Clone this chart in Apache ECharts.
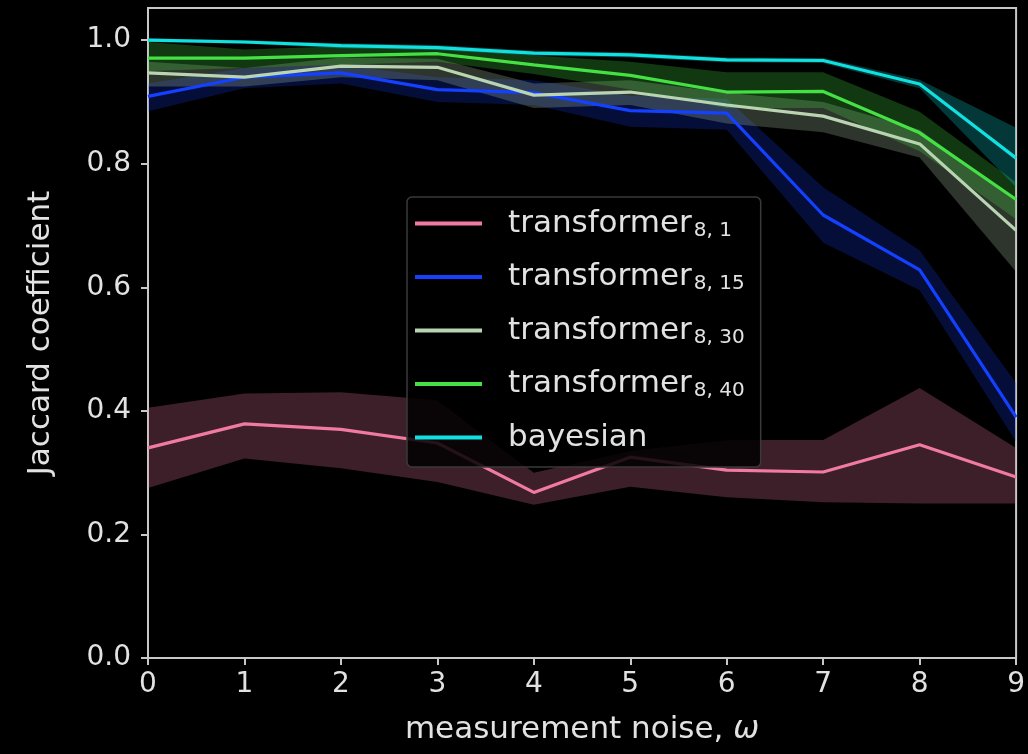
<!DOCTYPE html>
<html>
<head>
<meta charset="utf-8">
<script src="https://cdn.jsdelivr.net/npm/echarts@6/dist/echarts.min.js"></script>
<style>
	html, body { margin: 0; padding: 0; background: #000; }
	#lineChart { width: 1028px; height: 754px; }
</style>
</head>
<body>
<div id="lineChart"></div>
<script>
'use strict';

// noise levels on the x axis
var noise = ['0', '1', '2', '3', '4', '5', '6', '7', '8', '9'];
var yTicks = [0, 0.2, 0.4, 0.6, 0.8, 1.0];

var names = ['transformer8,1', 'transformer8,15', 'transformer8,30', 'transformer8,40', 'bayesian'];
var subs = ['8, 1', '8, 15', '8, 30', '8, 40', ''];

// mean and band (lo / hi) per model
var t1Mean = [0.340, 0.379, 0.370, 0.348, 0.268, 0.325, 0.304, 0.301, 0.345, 0.293];
var t1Lo   = [0.275, 0.323, 0.307, 0.285, 0.248, 0.277, 0.260, 0.252, 0.250, 0.250];
var t1Hi   = [0.405, 0.428, 0.430, 0.417, 0.300, 0.335, 0.353, 0.353, 0.437, 0.340];

var t15Mean = [0.909, 0.940, 0.947, 0.920, 0.915, 0.886, 0.882, 0.717, 0.628, 0.390];
var t15Lo   = [0.885, 0.922, 0.930, 0.900, 0.895, 0.860, 0.855, 0.672, 0.595, 0.350];
var t15Hi   = [0.930, 0.955, 0.960, 0.940, 0.935, 0.910, 0.905, 0.762, 0.660, 0.445];

var t30Mean = [0.947, 0.940, 0.958, 0.956, 0.911, 0.916, 0.895, 0.877, 0.832, 0.692];
var t30Lo   = [0.925, 0.925, 0.940, 0.935, 0.890, 0.895, 0.865, 0.851, 0.810, 0.625];
var t30Hi   = [0.965, 0.955, 0.972, 0.970, 0.930, 0.935, 0.915, 0.900, 0.855, 0.740];

var t40Mean = [0.971, 0.971, 0.975, 0.978, 0.960, 0.943, 0.916, 0.917, 0.850, 0.742];
var t40Lo   = [0.950, 0.955, 0.960, 0.965, 0.945, 0.920, 0.890, 0.890, 0.820, 0.710];
var t40Hi   = [0.997, 0.985, 0.990, 0.990, 0.975, 0.965, 0.948, 0.948, 0.884, 0.770];

var bayMean = [1.000, 0.997, 0.991, 0.988, 0.979, 0.976, 0.968, 0.967, 0.929, 0.809];
var bayLo   = [0.997, 0.994, 0.987, 0.984, 0.975, 0.972, 0.964, 0.963, 0.922, 0.762];
var bayHi   = [1.003, 1.000, 0.995, 0.992, 0.983, 0.980, 0.972, 0.971, 0.936, 0.858];

var colors = ['#f07aa0', '#1440ff', '#b8d4b0', '#44e044', '#10e0e0'];
var bandColors = ['rgba(240,122,160,0.25)', 'rgba(20,64,255,0.22)', 'rgba(184,212,176,0.25)',
		'rgba(68,224,68,0.25)', 'rgba(16,224,224,0.25)'];

var means = [t1Mean, t15Mean, t30Mean, t40Mean, bayMean];
var los = [t1Lo, t15Lo, t30Lo, t40Lo, bayLo];
var his = [t1Hi, t15Hi, t30Hi, t40Hi, bayHi];

var axisCol = '#c8c8c8',
		textCol = '#e2e2e2',
		font = 'DejaVu Sans';

var series = [];

// bands first (lo + stacked width), so every line sits on top of them
names.forEach(function (n, k) {
	var diff = his[k].map(function (h, i) { return +(h - los[k][i]).toFixed(4); });
	series.push({
		name: 'lo' + k,
		type: 'line',
		stack: 'band' + k,
		symbol: 'none',
		silent: true,
		z: 1,
		lineStyle: {opacity: 0},
		data: los[k]
	});
	series.push({
		name: 'band' + k,
		type: 'line',
		stack: 'band' + k,
		symbol: 'none',
		silent: true,
		z: 1,
		lineStyle: {opacity: 0},
		areaStyle: {color: bandColors[k], opacity: 1},
		data: diff
	});
});

names.forEach(function (n, k) {
	series.push({
		name: n,
		type: 'line',
		symbol: 'none',
		z: 2,
		color: colors[k],
		lineStyle: {color: colors[k], width: 3.2},
		data: means[k]
	});
});

var chart = echarts.init(document.getElementById('lineChart'));

var options = {
	backgroundColor: '#000',
	animation: false,
	grid: {
		left: 148, right: 9, top: 8, bottom: 96,
		show: true,
		borderColor: axisCol,
		borderWidth: 2,
		backgroundColor: 'transparent'
	},
	legend: {
		data: names,
		orient: 'vertical',
		left: 407,
		top: 197,
		padding: [11, 16, 14, 8],
		itemWidth: 67,
		itemHeight: 4,
		itemGap: 21,
		icon: 'rect',
		backgroundColor: 'rgba(0,0,0,0.85)',
		borderColor: '#3a3a3a',
		borderWidth: 1.5,
		borderRadius: 5,
		formatter: function (name) {
			var k = names.indexOf(name);
			if (!subs[k]) { return '{m|bayesian}'; }
			return '{m|transformer}{s|' + subs[k] + '}';
		},
		textStyle: {
			color: textCol,
			fontFamily: font,
			padding: [0, 0, 0, 21],
			rich: {
				m: {fontSize: 31, fontFamily: font, color: textCol, lineHeight: 34},
				s: {fontSize: 20, fontFamily: font, color: textCol, lineHeight: 6, verticalAlign: 'bottom', padding: [0, 0, 0, 2]}
			}
		}
	},
	xAxis: {
		type: 'category',
		data: noise,
		boundaryGap: false,
		name: '{n|measurement noise, }{w|ω}',
		nameLocation: 'middle',
		nameGap: 56,
		nameTextStyle: {
			rich: {
				n: {fontSize: 31, fontFamily: font, color: textCol},
				w: {fontSize: 31, fontFamily: font, fontStyle: 'italic', color: textCol}
			}
		},
		axisLine: {show: true, lineStyle: {color: axisCol, width: 2}},
		axisTick: {show: true, inside: false, length: 7, alignWithLabel: true, lineStyle: {color: axisCol, width: 2}},
		axisLabel: {color: textCol, fontSize: 28, fontFamily: font, margin: 13, interval: 0},
		splitLine: {show: false}
	},
	yAxis: {
		type: 'value',
		min: 0,
		max: 1.052,
		name: 'Jaccard coefficient',
		nameLocation: 'middle',
		nameGap: 92,
		nameTextStyle: {color: textCol, fontSize: 31, fontFamily: font},
		axisLine: {show: true, lineStyle: {color: axisCol, width: 2}},
		axisTick: {show: true, inside: false, length: 7, customValues: yTicks, lineStyle: {color: axisCol, width: 2}},
		axisLabel: {
			color: textCol, fontSize: 28, fontFamily: font, margin: 17,
			customValues: yTicks,
			formatter: function (v) { return v.toFixed(1); }
		},
		splitLine: {show: false}
	},
	series: series
};

chart.setOption(options);
</script>
</body>
</html>
